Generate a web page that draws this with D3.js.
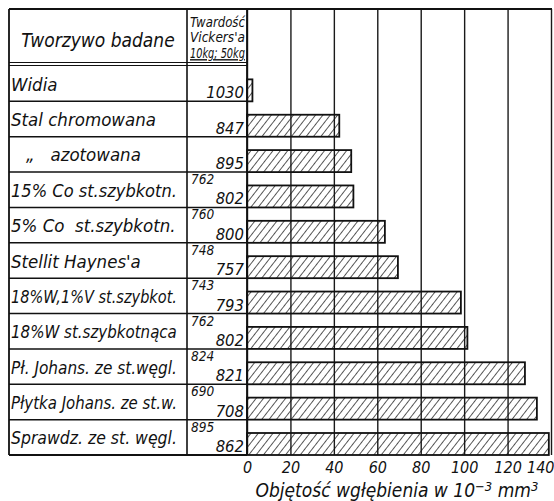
<!DOCTYPE html>
<html>
<head>
<meta charset="utf-8">
<script src="https://cdn.jsdelivr.net/npm/d3@7"></script>
<style>
  html, body { margin: 0; padding: 0; background: #fff; }
  svg text { font-family: "DejaVu Sans Condensed", "DejaVu Sans", sans-serif; font-style: italic; fill: #111; }
</style>
</head>
<body>
<svg id="chart" width="554" height="501"></svg>
<script>
// rows of the table, top to bottom
const materials = [
  "Widia",
  "Stal chromowana",
  "\u201E   azotowana",
  "15% Co st.szybkotn.",
  "5% Co  st.szybkotn.",
  "Stellit Haynes'a",
  "18%W,1%V st.szybkot.",
  "18%W st.szybkotnąca",
  "Pł. Johans. ze st.węgl.",
  "Płytka Johans. ze st.w.",
  "Sprawdz. ze st. węgl."
];
// Vickers hardness, 10 kg load (small upper number) and 50 kg load
const hv10 = [null, null, null, 762, 760, 748, 743, 762, 824, 690, 895];
const hv50 = [1030, 847, 895, 802, 800, 757, 793, 802, 821, 708, 862];
// indentation volume, 10^-3 mm^3
const volume = [2.5, 42.5, 48, 49, 63.5, 69.5, 98.5, 101.5, 128, 133.5, 139];
const xTicks = [0, 20, 40, 60, 80, 100, 120, 140];

const svg = d3.select("#chart");

// layout of the table frame
const frameLeft = 9, colSplit = 187, frameTop = 9, headBottom = 64, frameBottom = 455;
const x = d3.scaleLinear().domain([0, 140]).range([247, 551]);
const y = d3.scaleBand().domain(materials).range([headBottom + 2, frameBottom]);
const barH = 22;

// hatch pattern
const defs = svg.append("defs");
defs.append("pattern")
    .attr("id", "hatch")
    .attr("patternUnits", "userSpaceOnUse")
    .attr("width", 5.8).attr("height", 5.8)
    .attr("patternTransform", "rotate(38)")
  .append("line")
    .attr("x1", 0).attr("y1", 0).attr("x2", 0).attr("y2", 5.8)
    .attr("stroke", "#111").attr("stroke-width", 1.4);

// vertical grid + tick labels
const axis = svg.append("g")
    .attr("transform", `translate(0,${frameBottom})`)
    .call(d3.axisBottom(x).tickValues(xTicks).tickSize(-(frameBottom - frameTop)).tickPadding(8));
axis.select(".domain").remove();
axis.selectAll(".tick line").attr("stroke", "#1a1a1a").attr("stroke-width", 1.4);
axis.selectAll(".tick text")
    .attr("font-size", 16)
    .attr("fill", "#111")
    .attr("dy", "0.6em");
axis.attr("font-family", null).attr("font-size", null);
// last label sits against the page edge
axis.selectAll(".tick text").filter(d => d === 140).attr("text-anchor", "end").attr("x", 3);

// axis title
const title = svg.append("text")
    .attr("x", 397).attr("y", 497)
    .attr("text-anchor", "middle")
    .attr("font-size", 19);
title.append("tspan").text("Objętość wgłębienia w 10");
title.append("tspan").attr("dy", -6).attr("font-size", 13).text("\u22123");
title.append("tspan").attr("dy", 6).text(" mm");
title.append("tspan").attr("dy", -6).attr("font-size", 13).text("3");

// bars
svg.append("g").selectAll("rect")
  .data(materials)
  .join("rect")
    .attr("x", x(0))
    .attr("y", d => y(d) + y.bandwidth() - barH)
    .attr("width", (d, i) => x(volume[i]) - x(0))
    .attr("height", barH)
    .attr("fill", "url(#hatch)")
    .attr("stroke", "#111")
    .attr("stroke-width", 1.8);

// table frame
const frame = svg.append("g").attr("stroke", "#111").attr("fill", "none");
frame.append("line").attr("x1", frameLeft).attr("x2", x(140) + 1).attr("y1", frameTop).attr("y2", frameTop).attr("stroke-width", 1.8);
frame.append("line").attr("x1", frameLeft).attr("x2", x(0)).attr("y1", frameBottom).attr("y2", frameBottom).attr("stroke-width", 1.8);
frame.append("line").attr("x1", frameLeft).attr("x2", frameLeft).attr("y1", frameTop).attr("y2", frameBottom).attr("stroke-width", 1.8);
frame.append("line").attr("x1", colSplit).attr("x2", colSplit).attr("y1", frameTop).attr("y2", frameBottom).attr("stroke-width", 1.6);
frame.append("line").attr("x1", x(0)).attr("x2", x(0)).attr("y1", frameTop).attr("y2", frameBottom).attr("stroke-width", 1.8);
frame.append("line").attr("x1", frameLeft).attr("x2", x(0)).attr("y1", headBottom - 1.5).attr("y2", headBottom - 1.5).attr("stroke-width", 1.2);
frame.append("line").attr("x1", frameLeft).attr("x2", x(0)).attr("y1", headBottom + 1.5).attr("y2", headBottom + 1.5).attr("stroke-width", 1.2);
frame.selectAll("line.row")
  .data(materials.slice(1))
  .join("line")
    .attr("class", "row")
    .attr("x1", frameLeft).attr("x2", x(0))
    .attr("y1", d => y(d)).attr("y2", d => y(d))
    .attr("stroke-width", 1.5);

// squeeze text horizontally (scaleX) when wider than its cell
function fit(sel, maxW) {
  sel.each(function() {
    const t = d3.select(this);
    const w = this.getComputedTextLength();
    const x0 = +t.attr("x"), y0 = +t.attr("y");
    const k = w > maxW ? maxW / w : 1;
    const anchor = t.attr("text-anchor");
    const shift = anchor === "middle" ? x0 * (1 - k) : x0 * (1 - k);
    t.attr("transform", `translate(${shift},0) scale(${k},1)`);
  });
}

// headers
svg.append("text")
    .attr("x", (frameLeft + colSplit) / 2).attr("y", 47)
    .attr("text-anchor", "middle").attr("font-size", 19)
    .text("Tworzywo badane")
    .call(fit, 156);
const head2 = ["Twardość", "Vickers'a", "10kg; 50kg"];
svg.append("g").selectAll("text")
  .data(head2)
  .join("text")
    .attr("x", colSplit + 3).attr("y", (d, i) => 27 + i * 15.5)
    .attr("font-size", 14)
    .attr("text-decoration", (d, i) => i === 2 ? "underline" : null)
    .text(d => d)
    .call(fit, 55);

// row labels
svg.append("g").selectAll("text")
  .data(materials)
  .join("text")
    .attr("x", (d, i) => i === 2 ? 26 : 11)
    .attr("y", d => y(d) + y.bandwidth() / 2 + 7)
    .attr("font-size", 18.5)
    .style("white-space", "pre")
    .text(d => d)
    .call(fit, 166);

// hardness numbers
svg.append("g").selectAll("text")
  .data(materials)
  .join("text")
    .attr("x", x(0) - 3)
    .attr("y", d => y(d) + y.bandwidth() - 3)
    .attr("text-anchor", "end")
    .attr("font-size", 16.5)
    .text((d, i) => hv50[i]);
svg.append("g").selectAll("text")
  .data(materials.filter((d, i) => hv10[i] !== null))
  .join("text")
    .attr("x", colSplit + 4)
    .attr("y", d => y(d) + 12)
    .attr("font-size", 13.5)
    .text(d => hv10[materials.indexOf(d)]);
</script>
</body>
</html>
